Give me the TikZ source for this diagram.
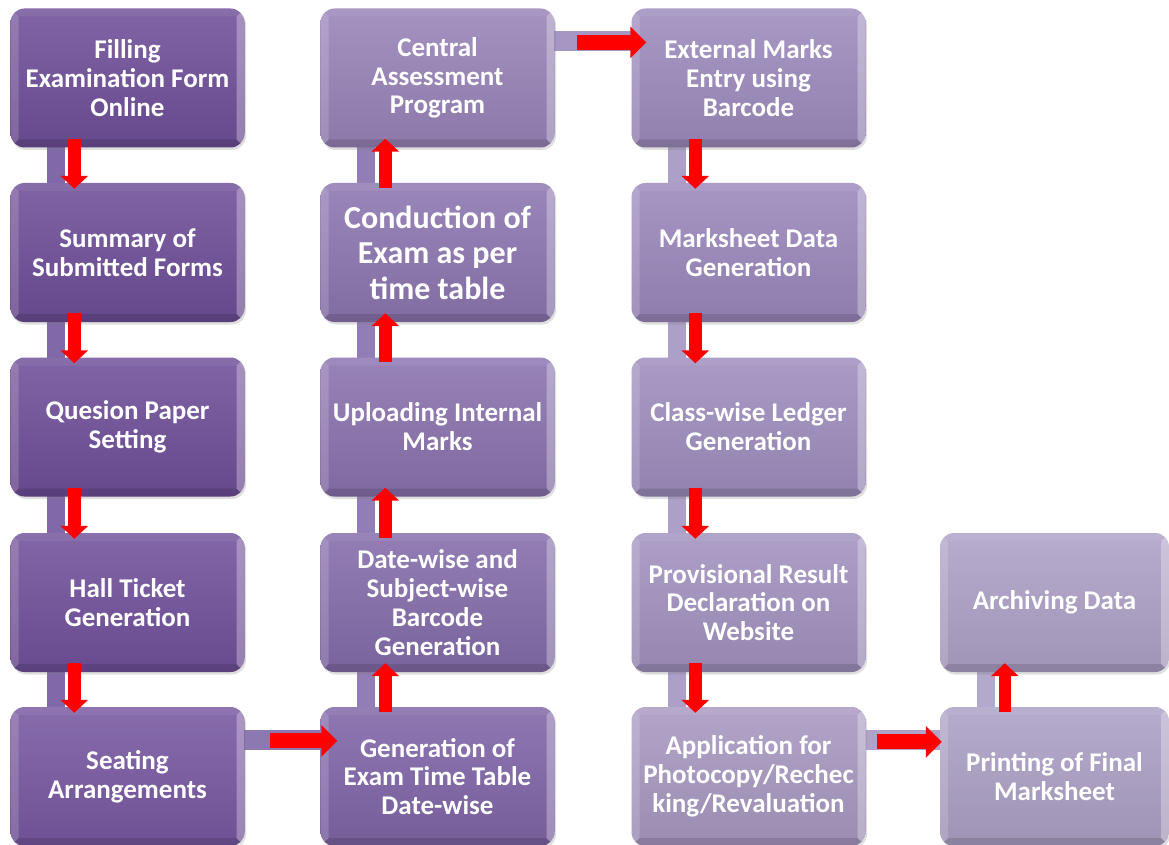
\documentclass[tikz,border=0pt]{standalone}
\usepackage{fontspec}
\setmainfont{Carlito}
\usetikzlibrary{arrows.meta,shadows,backgrounds}
\newcommand{\boxfont}{\fontsize{27}{28.8}\selectfont\bfseries}
\newcommand{\bigboxfont}{\fontsize{32}{35.5}\selectfont\bfseries}
\definecolor{ca1}{HTML}{6F4F99}
\definecolor{ca2}{HTML}{6E4E98}
\definecolor{ca3}{HTML}{6F4F99}
\definecolor{ca4}{HTML}{71519B}
\definecolor{ca5}{HTML}{7758A1}
\definecolor{cb1}{HTML}{9883B8}
\definecolor{cb2}{HTML}{8C76B0}
\definecolor{cb3}{HTML}{8A72AE}
\definecolor{cb4}{HTML}{846CAA}
\definecolor{cb5}{HTML}{7F65A7}
\definecolor{cc1}{HTML}{9D8BBD}
\definecolor{cc2}{HTML}{9B88BC}
\definecolor{cc3}{HTML}{9E8DBE}
\definecolor{cc4}{HTML}{A292BF}
\definecolor{cc5}{HTML}{A898C1}
\definecolor{cd4}{HTML}{AEA1C7}
\definecolor{cd5}{HTML}{ACA0C5}
\definecolor{bara}{HTML}{8068A9}
\definecolor{barb}{HTML}{927EB6}
\definecolor{barc}{HTML}{AC9FC8}
\definecolor{bard}{HTML}{B4A9CC}
\definecolor{barh1}{HTML}{A596C3}
\definecolor{barh2}{HTML}{8C79B2}
\definecolor{barh3}{HTML}{AFA3C9}
\definecolor{arrred}{HTML}{FF0000}
\tikzset{
  stagebox/.style={rounded corners=14pt, minimum width=234pt, minimum height=139pt,
    inner sep=1pt, align=center, text=white, font=\boxfont,
    top color=#1!88!white, bottom color=#1!92!black,
    drop shadow={shadow xshift=1.5pt, shadow yshift=-2.5pt, opacity=0.25},
    path picture={
      \fill[sharp corners,white,opacity=0.16] (path picture bounding box.north west) -- (path picture bounding box.south west) -- ([shift={(8pt,8pt)}]path picture bounding box.south west) -- ([shift={(8pt,-8pt)}]path picture bounding box.north west) -- cycle;
      \fill[sharp corners,white,opacity=0.3] (path picture bounding box.north east) -- (path picture bounding box.south east) -- ([shift={(-8pt,8pt)}]path picture bounding box.south east) -- ([shift={(-8pt,-8pt)}]path picture bounding box.north east) -- cycle;
      \fill[sharp corners,white,opacity=0.06] (path picture bounding box.north west) -- (path picture bounding box.north east) -- ([shift={(-8pt,-8pt)}]path picture bounding box.north east) -- ([shift={(8pt,-8pt)}]path picture bounding box.north west) -- cycle;
      \fill[sharp corners,black,opacity=0.12] (path picture bounding box.south west) -- (path picture bounding box.south east) -- ([shift={(-8pt,8pt)}]path picture bounding box.south east) -- ([shift={(8pt,8pt)}]path picture bounding box.south west) -- cycle;
    }},
  barfill/.style={fill=#1},
  varr/.style={draw=arrred, line width=12.5pt, -{Triangle[length=13pt,width=27pt]}},
  harr/.style={draw=arrred, line width=15pt, -{Triangle[length=16pt,width=31pt]}},
}
\begin{document}
\begin{tikzpicture}[x=1pt,y=1pt]
\useasboundingbox (0,0) rectangle (1169,-845);
% column 1
\node[stagebox=ca1] (a1) at (127.5,-78) {Filling\\Examination Form\\Online};
\node[stagebox=ca2] (a2) at (127.5,-252.5) {Summary of\\Submitted Forms};
\node[stagebox=ca3] (a3) at (127.5,-427) {Quesion Paper\\Setting};
\node[stagebox=ca4] (a4) at (127.5,-602.5) {Hall Ticket\\Generation};
\node[stagebox=ca5] (a5) at (127.5,-776.5) {Seating\\Arrangements};
% column 2
\node[stagebox=cb1] (b1) at (437.5,-78) {Central\\Assessment\\Program};
\node[stagebox=cb2, font=\bigboxfont] (b2) at (437.5,-252.5) {Conduction of\\Exam as per\\time table};
\node[stagebox=cb3] (b3) at (437.5,-427) {Uploading Internal\\Marks};
\node[stagebox=cb4] (b4) at (437.5,-602.5) {Date-wise and\\Subject-wise\\Barcode\\Generation};
\node[stagebox=cb5] (b5) at (437.5,-776.5) {Generation of\\Exam Time Table\\Date-wise};
% column 3
\node[stagebox=cc1] (c1) at (748.5,-78) {External Marks\\Entry using\\Barcode};
\node[stagebox=cc2] (c2) at (748.5,-252.5) {Marksheet Data\\Generation};
\node[stagebox=cc3] (c3) at (748.5,-427) {Class-wise Ledger\\Generation};
\node[stagebox=cc4] (c4) at (748.5,-602.5) {Provisional Result\\Declaration on\\Website};
\node[stagebox=cc5] (c5) at (748.5,-776.5) {Application for\\Photocopy/Rechec\\king/Revaluation};
% column 4
\node[stagebox=cd4, minimum width=229pt] (d4) at (1054.5,-602.5) {Archiving Data};
\node[stagebox=cd5, minimum width=229pt] (d5) at (1054.5,-776.5) {Printing of Final\\Marksheet};
% connector bars behind the boxes
\begin{scope}[on background layer]
  \foreach \u/\l/\c in {a1/a2/bara,a2/a3/bara,a3/a4/bara,a4/a5/bara,
                       b1/b2/barb,b2/b3/barb,b3/b4/barb,b4/b5/barb,
                       c1/c2/barc,c2/c3/barc,c3/c4/barc,c4/c5/barc,
                       d4/d5/bard}{
    \fill[barfill=\c] ([xshift=37pt,yshift=5pt]\u.south west) rectangle ([xshift=55pt,yshift=-5pt]\l.north west);
  }
  \foreach \l/\r/\c in {b1/c1/barh1,a5/b5/barh2,c5/d5/barh3}{
    \fill[barfill=\c] ([xshift=-5pt,yshift=-23pt]\l.north east) rectangle ([xshift=5pt,yshift=-43pt]\r.north west);
  }
\end{scope}
% arrows down in columns 1 and 3
\foreach \u/\l in {a1/a2,a2/a3,a3/a4,a4/a5,c1/c2,c2/c3,c3/c4,c4/c5}{
  \draw[varr] ([xshift=64pt,yshift=9pt]\u.south west) -- ([xshift=64pt,yshift=-6pt]\l.north west);
}
% arrows up in columns 2 and 4
\foreach \u/\l in {b1/b2,b2/b3,b3/b4,b4/b5,d4/d5}{
  \draw[varr] ([xshift=65pt,yshift=-5pt]\l.north west) -- ([xshift=65pt,yshift=9pt]\u.south west);
}
% horizontal arrows
\draw[harr] ([xshift=25pt,yshift=-34pt]a5.north east) -- ([xshift=17pt,yshift=-34pt]b5.north west);
\draw[harr] ([xshift=22pt,yshift=-34pt]b1.north east) -- ([xshift=15pt,yshift=-34pt]c1.north west);
\draw[harr] ([xshift=11pt,yshift=-35pt]c5.north east) -- ([xshift=2pt,yshift=-35pt]d5.north west);
\end{tikzpicture}
\end{document}
